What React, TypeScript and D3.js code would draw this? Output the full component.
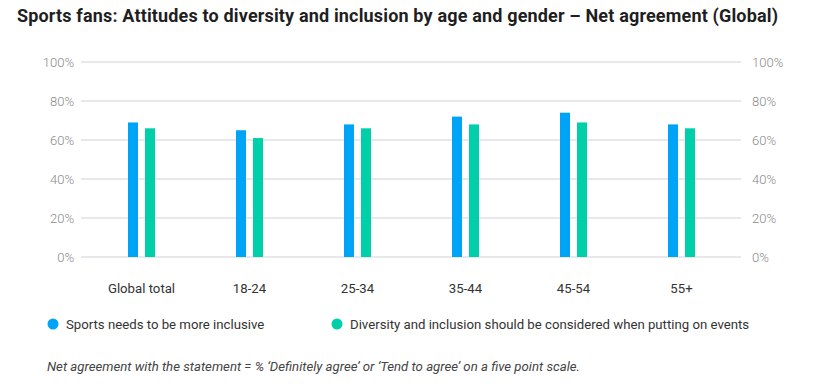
import React from 'react';
import * as d3 from 'd3';

const categories = ['Global total', '18-24', '25-34', '35-44', '45-54', '55+'];
const inclusiveValues = [69, 65, 68, 72, 74, 68];
const eventsValues = [66, 61, 66, 68, 69, 66];
const yTicks = [0, 20, 40, 60, 80, 100];

const seriesNames = [
  'Sports needs to be more inclusive',
  'Diversity and inclusion should be considered when putting on events',
];
const colors = ['#00a4f6', '#00d0aa'];

const width = 826;
const height = 386;
const gridLeft = 81;
const gridRight = 741;

export default function App() {
  const x = d3.scaleBand<string>().domain(categories).range([87.5, 735.5]);
  const y = d3.scaleLinear().domain([0, 100]).range([257, 62]);
  const barW = 10;
  const gap = 7;

  return (
    <svg
      width={width}
      height={height}
      style={{ position: 'absolute', left: 0, top: 0, background: '#fff' }}
      fontFamily="Roboto, 'Noto Sans', sans-serif"
    >
      <text x={17} y={22} fontSize={18} fontWeight={700} fill="#1f1f1f" textLength={761} lengthAdjust="spacing">
        Sports fans: Attitudes to diversity and inclusion by age and gender – Net agreement (Global)
      </text>

      {/* grid + both axes */}
      {yTicks.map(t => (
        <g key={t}>
          <line x1={gridLeft} x2={gridRight} y1={y(t)} y2={y(t)} stroke="#dfe0e6" strokeWidth={1.5} />
          <text x={74} y={y(t)} dy="0.35em" textAnchor="end" fontSize={13} fontWeight={300} fill="#8a8a8a">
            {t}%
          </text>
          <text x={752} y={y(t)} dy="0.35em" fontSize={13} fontWeight={300} fill="#8a8a8a">
            {t}%
          </text>
        </g>
      ))}

      {categories.map((c, i) => {
        const cx = x(c)! + x.bandwidth() / 2;
        return (
          <g key={c}>
            <rect x={cx - gap / 2 - barW} y={y(inclusiveValues[i])} width={barW} height={y(0) - y(inclusiveValues[i])} fill={colors[0]} />
            <rect x={cx + gap / 2} y={y(eventsValues[i])} width={barW} height={y(0) - y(eventsValues[i])} fill={colors[1]} />
            <text x={cx} y={293} textAnchor="middle" fontSize={13.2} fill="#333">
              {c}
            </text>
          </g>
        );
      })}

      {/* legend */}
      <circle cx={53} cy={324} r={5.5} fill={colors[0]} />
      <text x={66} y={328.5} fontSize={13.2} fill="#333">{seriesNames[0]}</text>
      <circle cx={337} cy={324} r={5.5} fill={colors[1]} />
      <text x={350} y={328.5} fontSize={13.2} fill="#333">{seriesNames[1]}</text>

      <text x={47} y={371} fontSize={13.2} fontStyle="italic" fill="#444">
        Net agreement with the statement = % ‘Definitely agree’ or ‘Tend to agree’ on a five point scale.
      </text>
    </svg>
  );
}
